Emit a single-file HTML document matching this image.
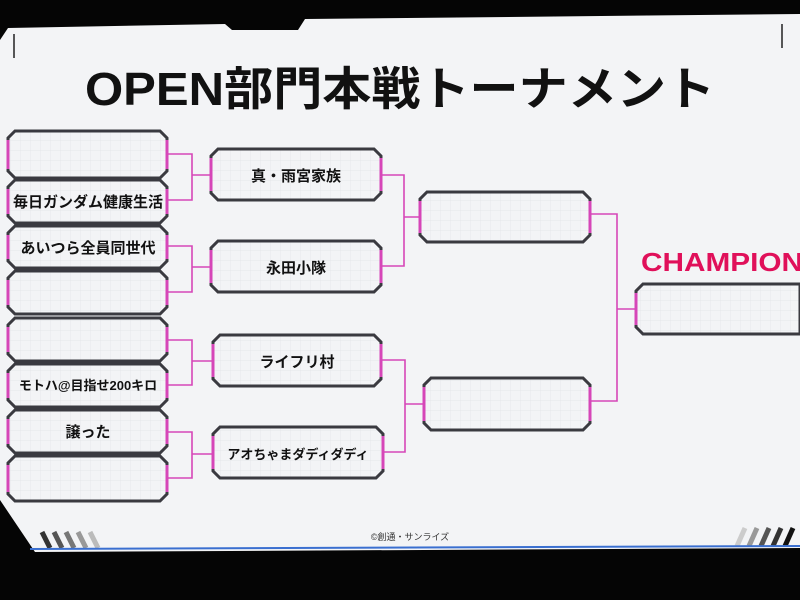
<!DOCTYPE html>
<html><head><meta charset="utf-8"><style>
html,body{margin:0;padding:0;background:#000;}
svg{display:block}
text{font-family:"Liberation Sans","Noto Sans CJK JP",sans-serif;}
</style></head><body>
<svg width="800" height="600" viewBox="0 0 800 600" xmlns="http://www.w3.org/2000/svg">
<defs>
<pattern id="grid" width="10" height="10" patternUnits="userSpaceOnUse">
<path d="M10 0H0V10" fill="none" stroke="#e2e4e8" stroke-width="0.7"/>
</pattern>
</defs>
<rect width="800" height="600" fill="#050505"/>
<polygon points="8,28 225,24 232,30 298,30 305,19 800,14 800,548 35,552 0,500 0,40" fill="#f3f4f6"/>
<line x1="14" y1="34" x2="14" y2="58" stroke="#222" stroke-width="1.5"/>
<line x1="782" y1="24" x2="782" y2="48" stroke="#222" stroke-width="1.5"/>
<g stroke-width="5">
<line x1="42" y1="532" x2="50" y2="548" stroke="#333"/>
<line x1="54" y1="532" x2="62" y2="548" stroke="#555"/>
<line x1="66" y1="532" x2="74" y2="548" stroke="#777"/>
<line x1="78" y1="532" x2="86" y2="548" stroke="#999"/>
<line x1="90" y1="532" x2="98" y2="548" stroke="#bbb"/>
<line x1="745" y1="528" x2="737" y2="546" stroke="#ccc"/>
<line x1="757" y1="528" x2="749" y2="546" stroke="#999"/>
<line x1="769" y1="528" x2="761" y2="546" stroke="#555"/>
<line x1="781" y1="528" x2="773" y2="546" stroke="#333"/>
<line x1="793" y1="528" x2="785" y2="546" stroke="#111"/>
</g>
<line x1="30" y1="549" x2="800" y2="546" stroke="#3a6fd0" stroke-width="2"/>
<text x="400" y="105" font-size="46" font-weight="bold" text-anchor="middle" fill="#111" textLength="630" lengthAdjust="spacingAndGlyphs">OPEN部門本戦トーナメント</text>
<text x="410" y="540" font-size="9" text-anchor="middle" fill="#333">©創通・サンライズ</text>
<text x="641" y="271" font-size="26" font-weight="bold" fill="#e0105a" textLength="162" lengthAdjust="spacingAndGlyphs">CHAMPION</text>

<g fill="none" stroke="#d646b8" stroke-width="1.6">
<path d="M167 154H192V200H167M192 175H211"/>
<path d="M167 246H192V292H167M192 267H211"/>
<path d="M167 340H192V385H167M192 361H213"/>
<path d="M167 432H192V478H167M192 454H213"/>
<path d="M381 175H404V266H381M404 217H420"/>
<path d="M381 360H405V452H383M405 404H424"/>
<path d="M590 214H617V401H590M617 309H636"/>
</g>

<g fill="url(#grid)" stroke="#3a3a40" stroke-width="3">
<polygon points="15,131 160,131 167,138 167,171 160,178 15,178 8,171 8,138"/>
<polygon points="15,180 160,180 167,187 167,216 160,223 15,223 8,216 8,187"/>
<polygon points="15,226 160,226 167,233 167,261 160,268 15,268 8,261 8,233"/>
<polygon points="15,271 160,271 167,278 167,307 160,314 15,314 8,307 8,278"/>
<polygon points="15,318 160,318 167,325 167,354 160,361 15,361 8,354 8,325"/>
<polygon points="15,364 160,364 167,371 167,400 160,407 15,407 8,400 8,371"/>
<polygon points="15,410 160,410 167,417 167,446 160,453 15,453 8,446 8,417"/>
<polygon points="15,456 160,456 167,463 167,494 160,501 15,501 8,494 8,463"/>
<polygon points="218,149 374,149 381,156 381,193 374,200 218,200 211,193 211,156"/>
<polygon points="218,241 374,241 381,248 381,285 374,292 218,292 211,285 211,248"/>
<polygon points="220,335 374,335 381,342 381,379 374,386 220,386 213,379 213,342"/>
<polygon points="220,427 376,427 383,434 383,471 376,478 220,478 213,471 213,434"/>
<polygon points="427,192 583,192 590,199 590,235 583,242 427,242 420,235 420,199"/>
<polygon points="431,378 583,378 590,385 590,423 583,430 431,430 424,423 424,385"/>
<polygon points="643,284 800,284 800,334 643,334 636,327 636,291"/>
</g>
<g stroke="#d646b8" stroke-width="3">
<path d="M8 140V169M167 140V169M8 189V214M167 189V214M8 235V259M167 235V259M8 280V305M167 280V305M8 327V352M167 327V352M8 373V398M167 373V398M8 419V444M167 419V444M8 465V492M167 465V492"/>
<path d="M211 158V191M381 158V191M211 250V283M381 250V283M213 344V377M381 344V377M213 436V469M383 436V469"/>
<path d="M420 201V233M590 201V233M424 387V421M590 387V421M636 293V325"/>
</g>

<g font-size="15" font-weight="bold" fill="#111" text-anchor="middle">
<text x="88" y="207">毎日ガンダム健康生活</text>
<text x="88" y="253">あいつら全員同世代</text>
<text x="88" y="390" font-size="13">モトハ@目指せ200キロ</text>
<text x="88" y="437">譲った</text>
<text x="296" y="181">真・雨宮家族</text>
<text x="296" y="273">永田小隊</text>
<text x="297" y="367">ライフリ村</text>
<text x="298" y="459" font-size="13">アオちゃまダディダディ</text>
</g>
</svg>
</body></html>
